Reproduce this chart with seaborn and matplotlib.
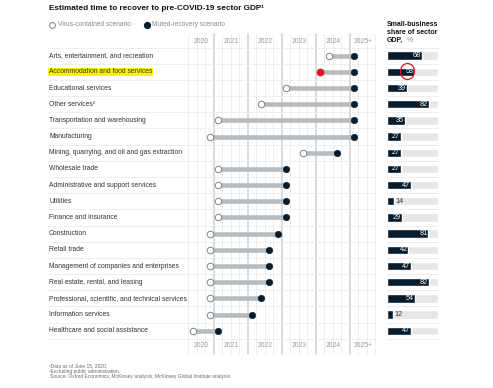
import matplotlib
matplotlib.use('Agg')
import matplotlib.pyplot as plt
import matplotlib.transforms as mtransforms
from matplotlib.patches import Ellipse
from matplotlib.lines import Line2D
import numpy as np
import pandas as pd
import seaborn as sns

# chart data
sectors = [
    'Arts, entertainment, and recreation',
    'Accommodation and food services',
    'Educational services',
    'Other services\u00b2',
    'Transportation and warehousing',
    'Manufacturing',
    'Mining, quarrying, and oil and gas extraction',
    'Wholesale trade',
    'Administrative and support services',
    'Utilities',
    'Finance and insurance',
    'Construction',
    'Retail trade',
    'Management of companies and enterprises',
    'Real estate, rental, and leasing',
    'Professional, scientific, and technical services',
    'Information services',
    'Healthcare and social assistance',
]
# recovery date (year + quarter fraction, quarter midpoints)
virus_contained = [2024.375, 2024.125, 2023.125, 2022.375, 2021.125, 2020.875,
                   2023.625, 2021.125, 2021.125, 2021.125, 2021.125, 2020.875,
                   2020.875, 2020.875, 2020.875, 2020.875, 2020.875, 2020.375]
muted_recovery = [2025.125, 2025.125, 2025.125, 2025.125, 2025.125, 2025.125,
                  2024.625, 2023.125, 2023.125, 2023.125, 2023.125, 2022.875,
                  2022.625, 2022.625, 2022.625, 2022.375, 2022.125, 2021.125]
small_business_share = [68, 53, 39, 82, 35, 27, 27, 27, 47, 14, 29, 81, 42, 47, 82, 54, 12, 47]
year_labels = ['2020', '2021', '2022', '2023', '2024', '2025+']
year_label_pos = [2020.625, 2021.5, 2022.5, 2023.5, 2024.5, 2025.375]
highlight_sector = 'Accommodation and food services'

navy = '#061c2c'
bar_grey = '#b6bbbf'
grid_light = '#ebebeb'
grid_year = '#d7d7d7'
text_grey = '#9b9b9b'

sns.set_theme(style='white')
plt.rcParams['font.family'] = ['Liberation Sans', 'DejaVu Sans']

W, H = 493, 388
fig = plt.figure(figsize=(W / 100, H / 100), dpi=100)

def fx(px):
    return px / W

def fy(py):
    return 1 - py / H

top, bottom = 47.6, 338.8
ax = fig.add_axes([fx(188.3), fy(bottom), fx(375.5) - fx(188.3), fy(top) - fy(bottom)])
axr = fig.add_axes([fx(386.7), fy(bottom), fx(438.3) - fx(386.7), fy(top) - fy(bottom)])

df = pd.DataFrame({'sector': sectors, 'contained': virus_contained,
                   'muted': muted_recovery, 'share': small_business_share})
df['row'] = np.arange(len(df))
df['full'] = 100

# quarter grid, heavier lines at year boundaries
for q in np.arange(2020.25, 2025.76, 0.25):
    is_year = abs(q - round(q)) < 1e-6 and 2021 <= q <= 2025
    ax.plot([q, q], [-1.35, 18.45], color=grid_year if is_year else grid_light,
            lw=1.3 if is_year else 0.6, clip_on=False, zorder=0)

# row separators
sep_trans = mtransforms.blended_transform_factory(ax.transAxes, ax.transData)
for b in np.arange(-0.5, len(df), 1.0):
    ax.plot([-0.752, 1.0], [b, b], color=grid_light, lw=0.6, transform=sep_trans,
            clip_on=False, zorder=0)
    axr.plot([0, 100], [b, b], color=grid_light, lw=0.6, clip_on=False, zorder=0)

# range bars and dots
ax.hlines(df['row'], df['contained'], df['muted'], color=bar_grey, lw=3.3, zorder=2)
sns.scatterplot(data=df, x='muted', y='row', color=navy, edgecolor=navy,
                s=22, linewidth=0.4, zorder=4, ax=ax)
sns.scatterplot(data=df[df['sector'] != highlight_sector], x='contained', y='row',
                color='white', edgecolor='#7b848a', s=22, linewidth=0.7, zorder=4, ax=ax)
sns.scatterplot(data=df[df['sector'] == highlight_sector], x='contained', y='row',
                color='#e5131b', edgecolor='#e5131b', s=26, linewidth=0.5, zorder=4, ax=ax)

ax.set_xlim(2020.25, 2025.75)
ax.set_ylim(len(df) - 0.5, -0.5)
ax.axis('off')

# year labels, top and bottom
for lab, pos in zip(year_labels, year_label_pos):
    ax.text(pos, -0.86, lab, ha='center', va='center', fontsize=4.9, color=text_grey)
    ax.text(pos, 17.94, lab, ha='center', va='center', fontsize=4.9, color=text_grey)

# sector labels
lab_trans = mtransforms.blended_transform_factory(fig.transFigure, ax.transData)
for r, name in zip(df['row'], df['sector']):
    kw = {}
    if name == highlight_sector:
        kw['bbox'] = dict(boxstyle='square,pad=0.12', facecolor='#fff200', edgecolor='none')
    ax.text(fx(49), r, name, transform=lab_trans, ha='left', va='center',
            fontsize=4.9, color='#333333', **kw)

# small-business share bars
sns.barplot(data=df, x='full', y='sector', orient='h', color='#e6e6e6', saturation=1,
            width=0.52, ax=axr)
sns.barplot(data=df, x='share', y='sector', orient='h', color=navy, saturation=1,
            width=0.52, ax=axr)
for r, v in zip(df['row'], df['share']):
    if v >= 20:
        axr.text(v - 1.5, r, str(v), ha='right', va='center', fontsize=5.2, color='white')
    else:
        axr.text(v + 2, r, str(v), ha='left', va='center', fontsize=5.2, color='#333333')
axr.set_xlim(0, 100)
axr.set_ylim(len(df) - 0.5, -0.5)
axr.axis('off')

# red hand-drawn circle around 53
fig.add_artist(Ellipse((fx(407.5), fy(71.5)), width=14 / W, height=16 / H,
                       transform=fig.transFigure, fill=False, edgecolor='#e3141b', lw=0.9))

# headers
fig.text(fx(49), fy(8), 'Estimated time to recover to pre-COVID-19 sector GDP\u00b9',
         fontsize=5.9, fontweight='bold', color='#111111', va='center')
fig.add_artist(Line2D([fx(52.3)], [fy(25)], marker='o', markersize=4.2, mfc='white',
                      mec='#7b848a', mew=0.7, transform=fig.transFigure))
fig.text(fx(57.5), fy(25), 'Virus-contained scenario', fontsize=4.8, color='#8a8a8a', va='center')
fig.add_artist(Line2D([fx(146.7)], [fy(25)], marker='o', markersize=4.2, mfc=navy,
                      mec=navy, transform=fig.transFigure))
fig.text(fx(152.3), fy(25), 'Muted-recovery scenario', fontsize=4.8, color='#8a8a8a', va='center')

fig.text(fx(386.7), fy(25), 'Small-business', fontsize=5.0, fontweight='bold', color='#111111', va='center')
fig.text(fx(386.7), fy(32.8), 'share of sector', fontsize=5.0, fontweight='bold', color='#111111', va='center')
fig.text(fx(386.7), fy(40.6), 'GDP,', fontsize=5.0, fontweight='bold', color='#111111', va='center')
fig.text(fx(406.8), fy(40.6), '%', fontsize=5.0, color='#8a8a8a', va='center')

# footnotes
fig.text(fx(49), fy(365.5), '\u00b9Data as of June 15, 2020.', fontsize=3.5, color='#6a6a6a', va='center')
fig.text(fx(49), fy(371), '\u00b2Excluding public administration.', fontsize=3.5, color='#6a6a6a', va='center')
fig.text(fx(50.5), fy(376.5), 'Source: Oxford Economics; McKinsey analysis; McKinsey Global Institute analysis',
         fontsize=3.5, color='#6a6a6a', va='center')

fig.savefig('out.png', dpi=100)
